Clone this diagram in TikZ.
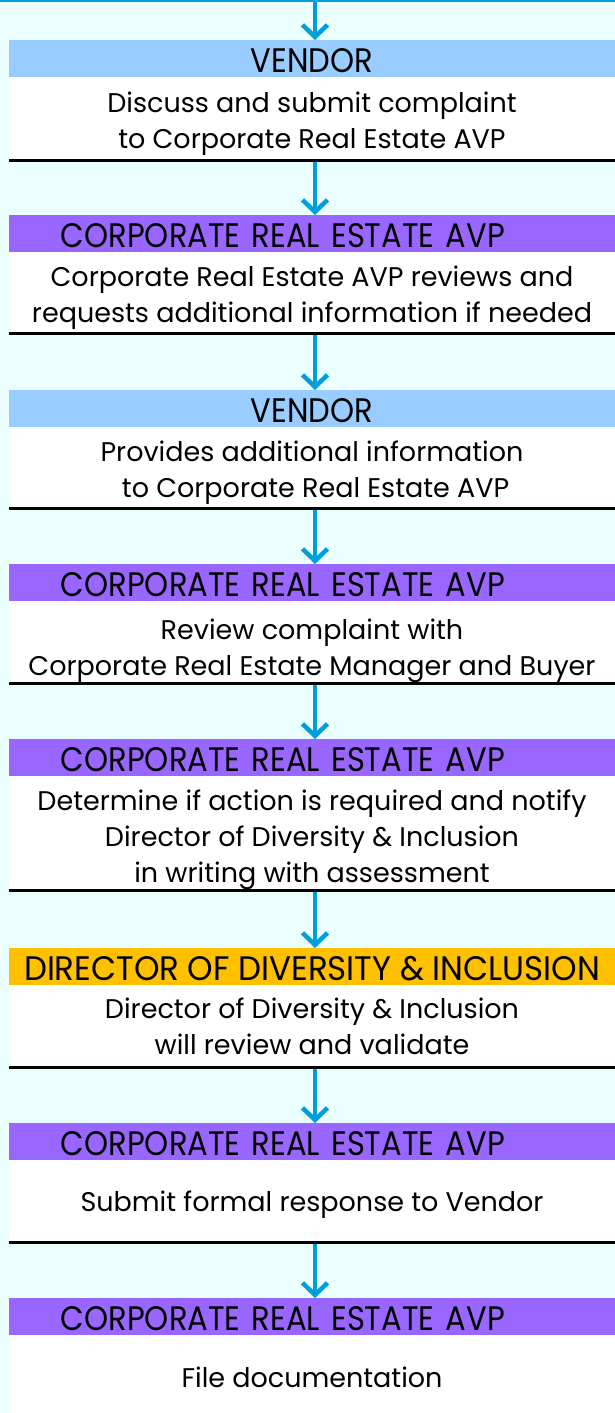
\documentclass[tikz,border=0pt]{standalone}
\usepackage{fontspec}
\setmainfont{Poppins}
\newfontfamily\hdrface{Poppins}[FakeStretch=0.9]
\newfontfamily\dirface{Poppins}[FakeStretch=0.955]
\usetikzlibrary{arrows.meta}

\definecolor{bgcyan}{RGB}{235,255,255}
\definecolor{vendorblue}{RGB}{153,204,255}
\definecolor{avppurple}{RGB}{153,102,255}
\definecolor{dirgold}{RGB}{255,192,0}
\definecolor{flowblue}{RGB}{0,158,219}

\newcommand{\hdrfont}{\hdrface\fontsize{34}{34}\selectfont}
\newcommand{\bodyfont}{\fontsize{27}{36}\selectfont}
\newcommand{\firstlift}[1]{\rule{0pt}{#1}}

\tikzset{
  hdr/.style={rectangle, anchor=north, minimum width=606pt, minimum height=37pt, inner sep=0pt, text height=27pt, text depth=0pt, font=\hdrfont},
  vendorhdr/.style={hdr, fill=vendorblue},
  avphdr/.style={hdr, fill=avppurple, text width=606pt, align=left},
  dirhdr/.style={hdr, fill=dirgold, font=\dirface\fontsize{34}{34}\selectfont},
  stepbody/.style={rectangle, anchor=north, fill=white, minimum width=606pt, inner sep=0pt, align=center, font=\bodyfont},
  flow/.style={draw=flowblue, line width=4.5pt, -{Straight Barb[length=12pt,width=25pt]}},
  rule/.style={draw=black, line width=3pt},
}

\begin{document}
\begin{tikzpicture}[x=1pt,y=1pt,yscale=-1,xscale=1]
\useasboundingbox (0,0) rectangle (615,1413);
\fill[bgcyan] (0,0) rectangle (615,1413);

%Line: top border
\coordinate (topL) at (0,1);
\coordinate (topR) at (615,1);
\coordinate (ax) at (315,0);
\draw[flowblue, line width=2.5pt] (topL) -- (topR);

% Step 1
\node[vendorhdr] (h1) at (312,40) {VENDOR};
\node[stepbody, minimum height=83pt] (b1) at (312,77) {\firstlift{30pt}Discuss and submit complaint\\to Corporate Real Estate AVP};

% Step 2
\node[avphdr] (h2) at (312,215) {\hspace*{52pt}CORPORATE REAL ESTATE AVP};
\node[stepbody, minimum height=81pt] (b2) at (312,252) {\firstlift{31pt}Corporate Real Estate AVP reviews and\\requests additional information if needed};

% Step 3
\node[vendorhdr] (h3) at (312,390) {VENDOR};
\node[stepbody, minimum height=81pt] (b3) at (312,427) {\firstlift{31pt}Provides additional information\\\ to Corporate Real Estate AVP};

% Step 4
\node[avphdr] (h4) at (312,564) {\hspace*{52pt}CORPORATE REAL ESTATE AVP};
\node[stepbody, minimum height=82pt] (b4) at (312,601) {\firstlift{38pt}Review complaint with\\Corporate Real Estate Manager and Buyer};

% Step 5
\node[avphdr] (h5) at (312,739) {\hspace*{52pt}CORPORATE REAL ESTATE AVP};
\node[stepbody, minimum height=114pt] (b5) at (312,776) {\firstlift{33pt}Determine if action is required and notify\\Director of Diversity \& Inclusion\\in writing with assessment};

% Step 6
\node[dirhdr] (h6) at (312,948) {DIRECTOR OF DIVERSITY \& INCLUSION};
\node[stepbody, minimum height=82pt] (b6) at (312,985) {Director of Diversity \& Inclusion\\will review and validate};

% Step 7
\node[avphdr] (h7) at (312,1123) {\hspace*{52pt}CORPORATE REAL ESTATE AVP};
\node[stepbody, minimum height=82pt] (b7) at (312,1160) {\firstlift{27pt}Submit formal response to Vendor};

% Step 8
\node[avphdr] (h8) at (312,1298) {\hspace*{52pt}CORPORATE REAL ESTATE AVP};
\node[stepbody, minimum height=78pt] (b8) at (312,1335) {\firstlift{27pt}File documentation};

% Arrows
\draw[flow] (topL -| ax) -- (h1.north -| ax);
\draw[flow] (b1.south -| ax) -- (h2.north -| ax);
\draw[flow] (b2.south -| ax) -- (h3.north -| ax);
\draw[flow] (b3.south -| ax) -- (h4.north -| ax);
\draw[flow] (b4.south -| ax) -- (h5.north -| ax);
\draw[flow] (b5.south -| ax) -- (h6.north -| ax);
\draw[flow] (b6.south -| ax) -- (h7.north -| ax);
\draw[flow] (b7.south -| ax) -- (h8.north -| ax);

% Rules under the steps
\draw[rule] (b1.south west) -- (b1.south east);
\draw[rule] (b2.south west) -- (b2.south east);
\draw[rule] (b3.south west) -- (b3.south east);
\draw[rule] (b4.south west) -- (b4.south east);
\draw[rule] (b5.south west) -- (b5.south east);
\draw[rule] (b6.south west) -- (b6.south east);
\draw[rule] (b7.south west) -- (b7.south east);

\end{tikzpicture}
\end{document}
